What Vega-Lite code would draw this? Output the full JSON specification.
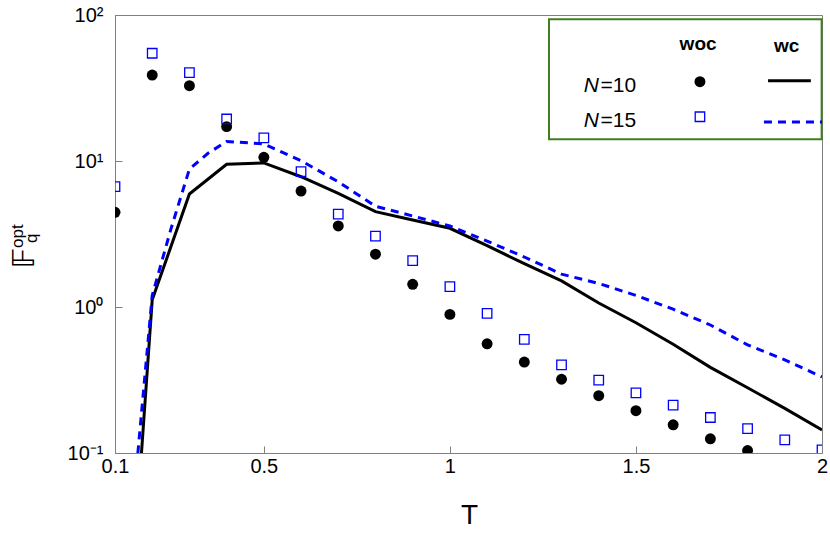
{
  "$schema": "https://vega.github.io/schema/vega-lite/v6.json",
  "width": 707,
  "height": 438,
  "autosize": {"type": "none"},
  "padding": {"left": 115, "top": 15, "right": 8, "bottom": 83},
  "background": "white",
  "config": {
    "font": "Liberation Sans, Arial, sans-serif",
    "view": {"stroke": "#808080", "strokeWidth": 1},
    "axis": {
      "grid": false,
      "domainColor": "#808080",
      "tickColor": "#808080",
      "labelColor": "#000000",
      "labelFontSize": 20,
      "titleColor": "#000000",
      "titleFontWeight": "normal"
    }
  },
  "datasets": {
    "curves": [
      {"T": 0.1, "N": 10, "kind": "woc", "F": 4.45},
      {"T": 0.2, "N": 10, "kind": "woc", "F": 38.8},
      {"T": 0.3, "N": 10, "kind": "woc", "F": 32.8},
      {"T": 0.4, "N": 10, "kind": "woc", "F": 17.2},
      {"T": 0.5, "N": 10, "kind": "woc", "F": 10.6},
      {"T": 0.6, "N": 10, "kind": "woc", "F": 6.23},
      {"T": 0.7, "N": 10, "kind": "woc", "F": 3.59},
      {"T": 0.8, "N": 10, "kind": "woc", "F": 2.3},
      {"T": 0.9, "N": 10, "kind": "woc", "F": 1.43},
      {"T": 1.0, "N": 10, "kind": "woc", "F": 0.89},
      {"T": 1.1, "N": 10, "kind": "woc", "F": 0.56},
      {"T": 1.2, "N": 10, "kind": "woc", "F": 0.42},
      {"T": 1.3, "N": 10, "kind": "woc", "F": 0.32},
      {"T": 1.4, "N": 10, "kind": "woc", "F": 0.247},
      {"T": 1.5, "N": 10, "kind": "woc", "F": 0.195},
      {"T": 1.6, "N": 10, "kind": "woc", "F": 0.156},
      {"T": 1.7, "N": 10, "kind": "woc", "F": 0.125},
      {"T": 1.8, "N": 10, "kind": "woc", "F": 0.104},
      {"T": 0.1, "N": 15, "kind": "woc", "F": 6.67},
      {"T": 0.2, "N": 15, "kind": "woc", "F": 54.7},
      {"T": 0.3, "N": 15, "kind": "woc", "F": 40.3},
      {"T": 0.4, "N": 15, "kind": "woc", "F": 19.4},
      {"T": 0.5, "N": 15, "kind": "woc", "F": 14.4},
      {"T": 0.6, "N": 15, "kind": "woc", "F": 8.45},
      {"T": 0.7, "N": 15, "kind": "woc", "F": 4.33},
      {"T": 0.8, "N": 15, "kind": "woc", "F": 3.06},
      {"T": 0.9, "N": 15, "kind": "woc", "F": 2.08},
      {"T": 1.0, "N": 15, "kind": "woc", "F": 1.38},
      {"T": 1.1, "N": 15, "kind": "woc", "F": 0.905},
      {"T": 1.2, "N": 15, "kind": "woc", "F": 0.601},
      {"T": 1.3, "N": 15, "kind": "woc", "F": 0.401},
      {"T": 1.4, "N": 15, "kind": "woc", "F": 0.316},
      {"T": 1.5, "N": 15, "kind": "woc", "F": 0.258},
      {"T": 1.6, "N": 15, "kind": "woc", "F": 0.213},
      {"T": 1.7, "N": 15, "kind": "woc", "F": 0.175},
      {"T": 1.8, "N": 15, "kind": "woc", "F": 0.147},
      {"T": 1.9, "N": 15, "kind": "woc", "F": 0.123},
      {"T": 2.0, "N": 15, "kind": "woc", "F": 0.105},
      {"T": 0.1, "N": 10, "kind": "wc", "F": 0.00026},
      {"T": 0.2, "N": 10, "kind": "wc", "F": 1.12},
      {"T": 0.3, "N": 10, "kind": "wc", "F": 5.94},
      {"T": 0.4, "N": 10, "kind": "wc", "F": 9.5},
      {"T": 0.5, "N": 10, "kind": "wc", "F": 9.7},
      {"T": 0.6, "N": 10, "kind": "wc", "F": 7.8},
      {"T": 0.7, "N": 10, "kind": "wc", "F": 6.0},
      {"T": 0.8, "N": 10, "kind": "wc", "F": 4.5},
      {"T": 0.9, "N": 10, "kind": "wc", "F": 3.94},
      {"T": 1.0, "N": 10, "kind": "wc", "F": 3.46},
      {"T": 1.1, "N": 10, "kind": "wc", "F": 2.63},
      {"T": 1.2, "N": 10, "kind": "wc", "F": 1.98},
      {"T": 1.3, "N": 10, "kind": "wc", "F": 1.51},
      {"T": 1.4, "N": 10, "kind": "wc", "F": 1.065},
      {"T": 1.5, "N": 10, "kind": "wc", "F": 0.78},
      {"T": 1.6, "N": 10, "kind": "wc", "F": 0.556},
      {"T": 1.7, "N": 10, "kind": "wc", "F": 0.386},
      {"T": 1.8, "N": 10, "kind": "wc", "F": 0.28},
      {"T": 1.9, "N": 10, "kind": "wc", "F": 0.202},
      {"T": 2.0, "N": 10, "kind": "wc", "F": 0.144},
      {"T": 0.1, "N": 15, "kind": "wc", "F": 0.0019},
      {"T": 0.2, "N": 15, "kind": "wc", "F": 1.2},
      {"T": 0.25, "N": 15, "kind": "wc", "F": 3.4},
      {"T": 0.3, "N": 15, "kind": "wc", "F": 8.8},
      {"T": 0.35, "N": 15, "kind": "wc", "F": 11.3},
      {"T": 0.4, "N": 15, "kind": "wc", "F": 13.6},
      {"T": 0.5, "N": 15, "kind": "wc", "F": 13.1},
      {"T": 0.6, "N": 15, "kind": "wc", "F": 10.05},
      {"T": 0.7, "N": 15, "kind": "wc", "F": 7.2},
      {"T": 0.8, "N": 15, "kind": "wc", "F": 4.9},
      {"T": 0.9, "N": 15, "kind": "wc", "F": 4.2},
      {"T": 1.0, "N": 15, "kind": "wc", "F": 3.59},
      {"T": 1.1, "N": 15, "kind": "wc", "F": 2.83},
      {"T": 1.2, "N": 15, "kind": "wc", "F": 2.2},
      {"T": 1.3, "N": 15, "kind": "wc", "F": 1.68},
      {"T": 1.4, "N": 15, "kind": "wc", "F": 1.45},
      {"T": 1.5, "N": 15, "kind": "wc", "F": 1.2},
      {"T": 1.6, "N": 15, "kind": "wc", "F": 0.966},
      {"T": 1.7, "N": 15, "kind": "wc", "F": 0.753},
      {"T": 1.8, "N": 15, "kind": "wc", "F": 0.55},
      {"T": 1.9, "N": 15, "kind": "wc", "F": 0.434},
      {"T": 2.0, "N": 15, "kind": "wc", "F": 0.332}
    ],
    "legend": [
      {"item": "box", "T": 1.2663, "T2": 1.999, "F": 93.4, "F2": 14.08},
      {"item": "head", "T": 1.667, "F": 57.5, "label": "woc"},
      {"item": "head", "T": 1.905, "F": 55.5, "label": "wc"},
      {"item": "nvar", "T": 1.4007, "F": 29.8, "label": "N"},
      {"item": "nvar", "T": 1.4007, "F": 17.0, "label": "N"},
      {"item": "nval", "T": 1.4048, "F": 29.8, "label": "=10"},
      {"item": "nval", "T": 1.4048, "F": 17.0, "label": "=15"},
      {"item": "dot", "T": 1.672, "F": 34.9},
      {"item": "square", "T": 1.672, "F": 20.1},
      {"item": "solid", "T": 1.855, "F": 35.5},
      {"item": "solid", "T": 1.97, "F": 35.5},
      {"item": "dash", "T": 1.844, "F": 18.5},
      {"item": "dash", "T": 2.0, "F": 18.5}
    ],
    "ytitle": [
      {"T": -0.148, "F": 2.535, "label": "opt"},
      {"T": -0.1104, "F": 2.744, "label": "q"}
    ]
  },
  "encoding": {
    "x": {
      "field": "T",
      "type": "quantitative",
      "scale": {"domain": [0.1, 2], "nice": false, "zero": false},
      "axis": {
        "values": [0.1, 0.5, 1, 1.5, 2],
        "format": "~g",
        "labelFlush": false,
        "tickSize": -7,
        "labelPadding": 10,
        "title": "T",
        "titleFontSize": 28,
        "titleX": 354,
        "titleY": 70,
        "titleAlign": "center",
        "titleBaseline": "alphabetic"
      }
    },
    "y": {
      "field": "F",
      "type": "quantitative",
      "scale": {"type": "log", "domain": [0.1, 100], "nice": false},
      "axis": {
        "values": [0.1, 1, 10, 100],
        "labelExpr": "datum.value >= 100 ? '10²' : datum.value >= 10 ? '10¹' : datum.value >= 1 ? '10⁰' : '10⁻¹'",
        "tickSize": -7,
        "labelPadding": 19,
        "title": "𝔽",
        "titleFont": "DejaVu Sans",
        "titleFontSize": 31,
        "titleAngle": 270,
        "titleAlign": "left",
        "titleBaseline": "alphabetic",
        "titleX": -81.7,
        "titleY": 253
      }
    }
  },
  "layer": [
    {
      "data": {"name": "curves"},
      "transform": [{"filter": "datum.N == 10 && datum.kind == 'wc'"}],
      "mark": {"type": "line", "color": "#000000", "strokeWidth": 3, "clip": true}
    },
    {
      "data": {"name": "curves"},
      "transform": [{"filter": "datum.N == 15 && datum.kind == 'wc'"}],
      "mark": {"type": "line", "color": "#0000ff", "strokeWidth": 3, "strokeDash": [8, 6], "clip": true}
    },
    {
      "data": {"name": "curves"},
      "transform": [{"filter": "datum.N == 10 && datum.kind == 'woc'"}],
      "mark": {"type": "point", "shape": "circle", "filled": true, "color": "#000000", "opacity": 1, "size": 120, "clip": true}
    },
    {
      "data": {"name": "curves"},
      "transform": [{"filter": "datum.N == 15 && datum.kind == 'woc'"}],
      "mark": {"type": "point", "shape": "square", "filled": false, "color": "#0000ff", "opacity": 1, "size": 90, "strokeWidth": 1.3, "clip": true}
    },
    {
      "data": {"name": "legend"},
      "transform": [{"filter": "datum.item == 'box'"}],
      "mark": {"type": "rect", "fill": "#ffffff", "stroke": "#3f7f1f", "strokeWidth": 2},
      "encoding": {"x2": {"field": "T2"}, "y2": {"field": "F2"}}
    },
    {
      "data": {"name": "legend"},
      "transform": [{"filter": "datum.item == 'head'"}],
      "mark": {"type": "text", "fontSize": 19, "fontWeight": "bold", "align": "center", "baseline": "alphabetic", "color": "#000000"},
      "encoding": {"text": {"field": "label"}}
    },
    {
      "data": {"name": "legend"},
      "transform": [{"filter": "datum.item == 'nvar'"}],
      "mark": {"type": "text", "fontSize": 21, "fontStyle": "italic", "align": "right", "baseline": "alphabetic", "color": "#000000"},
      "encoding": {"text": {"field": "label"}}
    },
    {
      "data": {"name": "legend"},
      "transform": [{"filter": "datum.item == 'nval'"}],
      "mark": {"type": "text", "fontSize": 21, "align": "left", "baseline": "alphabetic", "color": "#000000"},
      "encoding": {"text": {"field": "label"}}
    },
    {
      "data": {"name": "legend"},
      "transform": [{"filter": "datum.item == 'dot'"}],
      "mark": {"type": "point", "shape": "circle", "filled": true, "color": "#000000", "opacity": 1, "size": 120}
    },
    {
      "data": {"name": "legend"},
      "transform": [{"filter": "datum.item == 'square'"}],
      "mark": {"type": "point", "shape": "square", "filled": false, "color": "#0000ff", "opacity": 1, "size": 90, "strokeWidth": 1.3}
    },
    {
      "data": {"name": "legend"},
      "transform": [{"filter": "datum.item == 'solid'"}],
      "mark": {"type": "line", "color": "#000000", "strokeWidth": 3}
    },
    {
      "data": {"name": "legend"},
      "transform": [{"filter": "datum.item == 'dash'"}],
      "mark": {"type": "line", "color": "#0000ff", "strokeWidth": 3, "strokeDash": [8, 6], "clip": true}
    },
    {
      "data": {"name": "ytitle"},
      "mark": {"type": "text", "fontSize": 17, "angle": 270, "align": "left", "baseline": "alphabetic", "color": "#000000"},
      "encoding": {"text": {"field": "label"}}
    }
  ]
}
